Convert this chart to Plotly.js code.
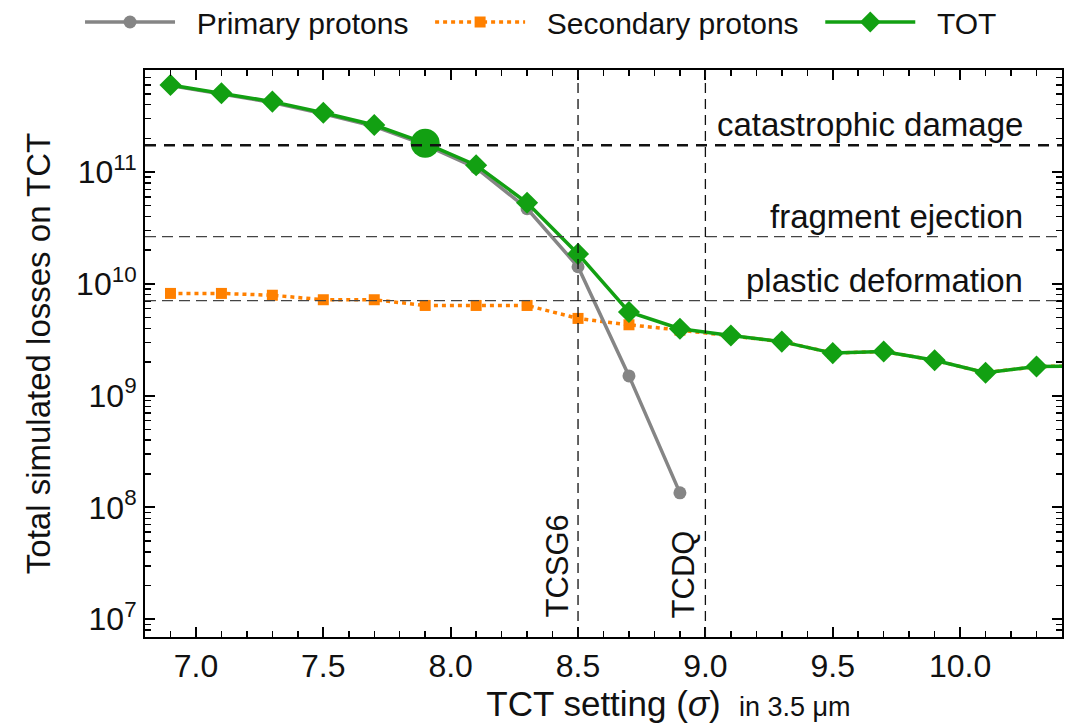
<!DOCTYPE html>
<html><head><meta charset="utf-8">
<script src="https://cdn.plot.ly/plotly-3.0.1.min.js"></script>
<style>html,body{margin:0;padding:0;background:#fff}</style>
</head><body>
<div id="chart" style="width:1067px;height:726px"></div>
<script>
// TCT setting (sigma)
const sigma = [6.9, 7.1, 7.3, 7.5, 7.7, 7.9, 8.1, 8.3, 8.5, 8.7, 8.9, 9.1, 9.3, 9.5, 9.7, 9.9, 10.1, 10.3, 10.5];
const sigmaPrimary = [6.9, 7.1, 7.3, 7.5, 7.7, 7.9, 8.1, 8.3, 8.5, 8.7, 8.9];
const primaryProtons = [5.92e11, 4.98e11, 4.18e11, 3.32e11, 2.56e11, 1.75e11, 1.09e11, 4.7e10, 1.42e10, 1.5e9, 1.35e8];
const secondaryProtons = [8.2e9, 8.2e9, 7.9e9, 7.2e9, 7.2e9, 6.4e9, 6.4e9, 6.4e9, 4.9e9, 4.3e9, 3.85e9, 3.45e9, 3.04e9, 2.4e9, 2.48e9, 2.07e9, 1.6e9, 1.82e9, 1.84e9];
const totalLosses = [6.0e11, 5.06e11, 4.26e11, 3.39e11, 2.63e11, 1.81e11, 1.15e11, 5.3e10, 1.85e10, 5.6e9, 3.96e9, 3.45e9, 3.04e9, 2.4e9, 2.48e9, 2.07e9, 1.6e9, 1.82e9, 1.84e9];
const highlightSigma = [7.9];
// series names
const seriesNames = ["Primary protons", "Secondary protons", "TOT"];
// damage thresholds
const thresholdNames = ["catastrophic damage", "fragment ejection", "plastic deformation"];
const thresholdValues = [1.73e11, 2.64e10, 7.07e9];
// collimator settings
const collimatorNames = ["TCSG6", "TCDQ"];
const collimatorSigma = [8.5, 9.0];
const yTickVals = [1e7, 1e8, 1e9, 1e10, 1e11];
const yTickText = ["10<sup>7</sup>", "10<sup>8</sup>", "10<sup>9</sup>", "10<sup>10</sup>", "10<sup>11</sup>"];

const FONT = "Liberation Sans, Arial, Helvetica, sans-serif";
const GREEN = "#12a012", ORANGE = "#ff8000", GRAY = "#858585";
const PAD = "\u00a0\u00a0";

const highlightY = highlightSigma.map(s => totalLosses[sigma.indexOf(s)]);

const minorVals = [];
for (let e = 6; e <= 11; e++) for (let m = 2; m <= 9; m++) minorVals.push(m * Math.pow(10, e));

const traces = [
  {x: sigma, y: secondaryProtons, name: PAD + seriesNames[1] + PAD, mode: "lines+markers", legendrank: 2,
   line: {color: ORANGE, width: 3.5, dash: "4px,4px"}, marker: {symbol: "square", size: 11, color: ORANGE}},
  {x: sigmaPrimary, y: primaryProtons, name: PAD + seriesNames[0] + PAD, mode: "lines+markers", legendrank: 1,
   line: {color: GRAY, width: 3.5}, marker: {symbol: "circle", size: 13, color: GRAY}},
  {x: sigma, y: totalLosses, name: PAD + seriesNames[2], mode: "lines+markers", legendrank: 3,
   line: {color: GREEN, width: 3.5}, marker: {symbol: "diamond", size: 17, color: GREEN}},
  {x: highlightSigma, y: highlightY, mode: "markers", showlegend: false, hoverinfo: "skip",
   marker: {symbol: "circle", size: 29, color: GREEN}}
];

const shapes = [];
thresholdValues.forEach((v, i) => {
  shapes.push({type: "line", xref: "paper", x0: 0, x1: 1, yref: "y", y0: v, y1: v,
    line: i === 0 ? {color: "#111", width: 2.5, dash: "11px,8px"} : {color: "#444", width: 1.3, dash: "11px,6px"}});
});
collimatorSigma.forEach(s => {
  shapes.push({type: "line", yref: "paper", y0: 0, y1: 1, xref: "x", x0: s, x1: s,
    line: {color: "#111", width: 1.3, dash: "10px,6px"}});
});

const annotations = [];
thresholdNames.forEach((t, i) => {
  annotations.push({text: t, xref: "x", x: 10.255, yref: "y", y: Math.log10(thresholdValues[i]),
    xanchor: "right", yanchor: "bottom", yshift: 0, showarrow: false,
    font: {family: FONT, size: 33, color: "#111"}});
});
collimatorNames.forEach((t, i) => {
  annotations.push({text: t, xref: "x", x: collimatorSigma[i], xshift: -21, yref: "paper", y: 0.03,
    xanchor: "center", yanchor: "bottom", textangle: -90, showarrow: false,
    font: {family: FONT, size: 31, color: "#111"}});
});
annotations.push({text: "in 3.5 μm", xref: "paper", x: (737 - 145) / 917, xanchor: "left",
  yref: "paper", y: (637 - 724) / 567, yanchor: "bottom", showarrow: false,
  font: {family: FONT, size: 27, color: "#111"}});

const axisCommon = {showline: true, linecolor: "#000", linewidth: 2, mirror: "allticks",
  ticks: "inside", tickcolor: "#000", tickwidth: 2, ticklen: 10, showgrid: false, zeroline: false,
  tickfont: {family: FONT, size: 32, color: "#111"}};

const layout = {
  width: 1067, height: 726,
  margin: {l: 145, r: 5, t: 70, b: 89},
  paper_bgcolor: "#fff", plot_bgcolor: "#fff",
  font: {family: FONT, color: "#111"},
  showlegend: true,
  legend: {orientation: "h", xref: "container", yref: "container", x: 0.075, y: 1 - 22 / 726, yanchor: "middle",
    font: {family: FONT, size: 30, color: "#111"}, itemwidth: 90, traceorder: "normal",
    bgcolor: "rgba(0,0,0,0)"},
  xaxis: Object.assign({}, axisCommon, {range: [6.8, 10.4], tick0: 7, dtick: 0.5, tickformat: ".1f",
    minor: {dtick: 0.1, tick0: 7, ticks: "inside", ticklen: 6, tickwidth: 1.5, tickcolor: "#000", showgrid: false},
    title: {text: "TCT setting (<i>σ</i>)", standoff: 8, font: {family: FONT, size: 35, color: "#111"}}}),
  yaxis: Object.assign({}, axisCommon, {type: "log", range: [6.841, 11.912], tickvals: yTickVals, ticktext: yTickText,
    minor: {tickvals: minorVals, ticks: "inside", ticklen: 6, tickwidth: 1.5, tickcolor: "#000", showgrid: false},
    title: {text: "Total simulated losses on TCT", standoff: 16, font: {family: FONT, size: 33, color: "#111"}}}),
  shapes: shapes,
  annotations: annotations
};

Plotly.newPlot("chart", traces, layout, {displayModeBar: false, staticPlot: true});
</script>
</body></html>
